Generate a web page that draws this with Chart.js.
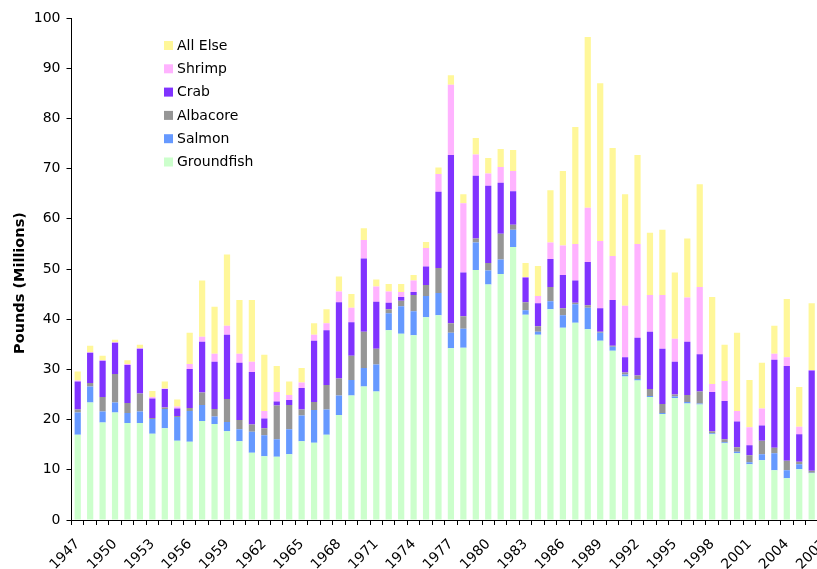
<!DOCTYPE html>
<html>
<head>
<meta charset="utf-8">
<script src="https://cdn.jsdelivr.net/npm/chart.js@4.4.1/dist/chart.umd.min.js"></script>
<style>
  html, body { margin: 0; padding: 0; background: #fff; overflow: hidden; }
  #wrap { position: absolute; left: 0; top: 0; width: 847px; height: 569px; }
</style>
</head>
<body>
<div id="wrap"><canvas id="id_chart" width="847" height="569"></canvas></div>
<script>
// years 1947..2007 (2007 sits just past the right edge of the picture, no data read)
var years = [];
for (var y = 1947; y <= 2007; y++) years.push(String(y));

// pounds, millions
var groundfish = [17.0,23.4,19.4,21.4,19.3,19.3,17.2,18.3,15.8,15.6,19.7,19.1,17.7,15.7,13.4,12.7,12.6,13.1,15.7,15.4,
                  17.0,20.9,24.8,26.6,25.6,37.8,37.1,36.8,40.4,40.8,34.2,34.3,49.8,46.9,49.0,54.4,40.9,36.9,42.0,38.3,
                  39.3,38.0,35.7,33.7,28.6,27.8,24.5,21.1,24.3,23.2,23.0,17.1,15.3,13.3,11.1,11.9,9.9,8.3,10.1,9.3,null];
var salmon     = [4.4,3.2,2.2,2.0,2.0,2.3,2.9,3.8,4.7,6.1,3.2,1.5,1.8,2.4,4.2,4.2,3.5,5.0,5.1,6.5,
                  5.0,3.9,3.1,3.7,5.4,3.4,5.5,4.8,4.2,4.4,3.1,3.8,5.5,2.8,2.9,3.4,0.9,0.6,1.6,2.5,
                  3.7,4.3,1.6,0.8,0.4,0.3,0.2,0.2,0.3,0.3,0.2,0.2,0.2,0.3,0.4,1.2,3.4,1.6,1.0,0.1,null];
var albacore   = [0.6,0.7,2.9,5.7,2.0,3.6,0.2,0.3,0.2,0.6,2.5,1.5,4.6,1.8,1.4,1.4,6.7,4.8,1.2,1.6,
                  4.9,3.4,4.8,7.2,3.1,0.8,1.1,3.2,2.2,5.0,1.9,2.5,0.8,1.5,5.1,1.0,1.6,1.1,2.8,1.4,
                  0.3,0.5,0.2,0.2,0.4,0.7,1.4,1.8,0.4,1.4,2.4,0.4,0.6,0.9,1.4,2.7,1.1,1.9,0.5,0.4,null];
var crab       = [5.6,6.0,7.2,6.2,7.6,8.9,3.9,3.7,1.5,7.8,10.1,9.4,12.8,11.4,10.5,1.9,0.8,1.0,4.3,12.2,
                  10.9,15.2,6.7,14.6,9.4,1.3,0.7,0.6,3.7,15.2,33.5,8.7,12.5,15.4,10.2,6.7,4.9,4.6,5.6,6.6,
                  4.4,8.6,4.7,9.1,3.0,7.5,11.4,11.0,6.5,10.6,7.4,7.8,7.6,5.1,2.0,3.0,17.5,18.9,5.5,20.0,null];
var shrimp     = [0.2,0.1,0.1,0.1,0.2,0.1,0.3,0.1,0.4,1.0,1.0,1.6,1.8,1.8,2.0,1.5,1.9,1.0,1.1,1.2,
                  1.4,2.1,2.9,3.7,3.0,2.2,1.0,2.3,3.7,3.5,14.0,13.8,4.2,2.4,3.1,4.0,0.1,1.4,3.3,5.9,
                  7.3,10.8,13.4,8.8,10.3,18.7,7.3,10.7,4.6,8.8,13.4,1.6,4.0,2.1,3.6,3.4,1.2,1.7,1.5,0.1,null];
var allElse    = [1.8,1.3,0.9,0.5,0.7,0.7,1.2,1.4,1.4,6.2,11.2,9.4,14.2,10.7,12.3,11.2,5.2,2.7,2.9,2.3,
                  2.8,3.0,2.7,2.3,1.4,1.5,1.6,1.1,1.2,1.3,1.9,1.8,3.3,3.1,3.6,4.2,2.8,6.0,10.4,14.8,
                  23.3,34.0,31.4,21.5,22.2,17.7,12.4,13.0,13.2,11.8,20.5,17.3,7.2,15.6,9.4,9.1,5.6,11.6,7.9,13.3,null];

var seriesNames  = ["Groundfish", "Salmon", "Albacore", "Crab", "Shrimp", "All Else"];
var seriesData   = [groundfish, salmon, albacore, crab, shrimp, allElse];
var seriesColors = ["#ccffcc", "#6699ff", "#969696", "#8033ff", "#ffb3ff", "#fff799"];
var yTitle = "Pounds (Millions)";

var FONT = "'DejaVu Sans', Verdana, sans-serif";

// legend inside the plot (top-left, reversed order) + the y title, which sits a bit below centre
var extras = {
    id: "extras",
    afterDraw: function(chart){
        var ctx = chart.ctx;
        var ds = chart.data.datasets;
        ctx.save();
        ctx.font = "14px " + FONT;
        ctx.textBaseline = "middle";
        for (var i = 0; i < ds.length; i++) {
            var item = ds[ds.length - 1 - i];
            var cy = 45.5 + i * 23.3;
            ctx.fillStyle = item.backgroundColor;
            ctx.fillRect(164, cy - 4.5, 9, 9);
            ctx.fillStyle = "#000";
            ctx.fillText(item.label, 177, cy + 0.5);
        }
        ctx.translate(20, 283);
        ctx.rotate(-Math.PI / 2);
        ctx.textAlign = "center";
        ctx.font = "bold 14.5px " + FONT;
        ctx.fillText(yTitle, 0, 0);
        ctx.restore();
    }
};

var datasets = [];
for (var i = 0; i < seriesNames.length; i++) {
    datasets.push({
        label: seriesNames[i],
        data: seriesData[i],
        backgroundColor: seriesColors[i],
        borderWidth: 0,
        barPercentage: 0.5,
        categoryPercentage: 1.0
    });
}

var ctx = document.getElementById("id_chart").getContext("2d");
var myChart = new Chart(ctx, {
    type: "bar",
    data: { labels: years, datasets: datasets },
    options: {
        responsive: false,
        animation: false,
        devicePixelRatio: 1,
        layout: { padding: { top: 18, right: 0, left: 0, bottom: 0 } },
        plugins: {
            legend: { display: false },
            tooltip: { enabled: false }
        },
        scales: {
            x: {
                stacked: true,
                grid: { display: true, drawOnChartArea: false, drawTicks: true, tickLength: 5, color: "#000", offset: true },
                border: { color: "#000", width: 1 },
                ticks: {
                    autoSkip: false,
                    minRotation: 45,
                    maxRotation: 45,
                    color: "#000",
                    padding: 11,
                    font: { family: FONT, size: 14 },
                    callback: function(val, idx){ return (idx % 3 === 0) ? years[idx] : ""; }
                },
                afterFit: function(scale){ scale.height = 49; }
            },
            y: {
                stacked: true,
                min: 0,
                max: 100,
                grid: { display: true, drawOnChartArea: false, drawTicks: true, tickLength: 5, color: "#000" },
                border: { color: "#000", width: 1 },
                ticks: { stepSize: 10, color: "#000", padding: 6, font: { family: FONT, size: 14 } },
                afterFit: function(scale){ scale.width = 71.5; }
            }
        }
    },
    plugins: [extras]
});
</script>
</body>
</html>
